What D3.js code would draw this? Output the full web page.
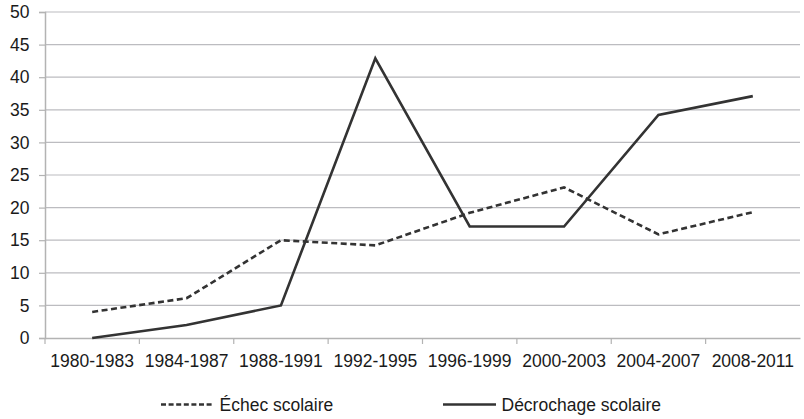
<!DOCTYPE html>
<html>
<head>
<meta charset="utf-8">
<script src="https://cdn.jsdelivr.net/npm/d3@7"></script>
<style>
  body { margin: 0; background: #fff; }
  text { font-family: "Liberation Sans", Arial, sans-serif; fill: #1a1a1a; }
</style>
</head>
<body>
<div id="chart"></div>
<script>
var width = 804, height = 419;

// data
var periods = ["1980-1983", "1984-1987", "1988-1991", "1992-1995",
               "1996-1999", "2000-2003", "2004-2007", "2008-2011"];
var echec = [4.0, 6.1, 15.0, 14.2, 19.2, 23.1, 15.9, 19.3];
var decrochage = [0, 2.0, 5.0, 42.9, 17.1, 17.1, 34.2, 37.1];
var yTicks = [0, 5, 10, 15, 20, 25, 30, 35, 40, 45, 50];
var seriesNames = ["Échec scolaire", "Décrochage scolaire"];

var margin = {left: 45, right: 4, top: 12, bottom: 81};

var svg = d3.select("#chart").append("svg")
    .attr("width", width)
    .attr("height", height);

var x = d3.scaleBand()
    .domain(periods)
    .range([margin.left, width - margin.right]);

var y = d3.scaleLinear()
    .domain([0, 50])
    .range([height - margin.bottom, margin.top]);

// gridlines
svg.append("g")
    .selectAll("line")
    .data(yTicks.slice(1))
    .enter().append("line")
    .attr("x1", margin.left)
    .attr("x2", width - margin.right)
    .attr("y1", function(d) { return y(d); })
    .attr("y2", function(d) { return y(d); })
    .attr("stroke", "#bcbcc0")
    .attr("stroke-width", 1.2);

// y axis
var yAxis = svg.append("g")
    .attr("transform", "translate(" + margin.left + ",0)")
    .call(d3.axisLeft(y).tickValues(yTicks).tickSize(6).tickPadding(9.5));
yAxis.select(".domain").attr("stroke", "#b3b3b3").attr("stroke-width", 1.5);
yAxis.selectAll(".tick line").attr("stroke", "#b3b3b3").attr("stroke-width", 1.2);
yAxis.selectAll("text").style("font-size", "17.5px").attr("fill", "#1a1a1a");

// x axis
var xAxis = svg.append("g")
    .attr("transform", "translate(0," + y(0) + ")")
    .call(d3.axisBottom(x).tickSize(0).tickPadding(17));
xAxis.select(".domain").attr("stroke", "#b3b3b3").attr("stroke-width", 1.5);
xAxis.selectAll("text").style("font-size", "17.5px").attr("fill", "#1a1a1a");

// category boundary ticks
svg.append("g")
    .selectAll("line")
    .data(periods)
    .enter().append("line")
    .attr("x1", function(d) { return x(d); })
    .attr("x2", function(d) { return x(d); })
    .attr("y1", y(0))
    .attr("y2", y(0) + 6)
    .attr("stroke", "#b3b3b3")
    .attr("stroke-width", 1.2);

var line = d3.line()
    .x(function(d, i) { return x(periods[i]) + x.bandwidth() / 2; })
    .y(function(d) { return y(d); });

svg.append("path")
    .datum(echec)
    .attr("d", line)
    .attr("fill", "none")
    .attr("stroke", "#333")
    .attr("stroke-width", 2.6)
    .attr("stroke-dasharray", "6,3.5");

svg.append("path")
    .datum(decrochage)
    .attr("d", line)
    .attr("fill", "none")
    .attr("stroke", "#333")
    .attr("stroke-width", 2.6);

// legend
var legend = [
  {name: seriesNames[0], x: 161, dash: "5,2.6"},
  {name: seriesNames[1], x: 443, dash: null}
];
var lg = svg.append("g").selectAll("g")
    .data(legend)
    .enter().append("g")
    .attr("transform", function(d) { return "translate(" + d.x + ",404.5)"; });
lg.append("line")
    .attr("x1", 0).attr("x2", 53)
    .attr("y1", 0).attr("y2", 0)
    .attr("stroke", "#333")
    .attr("stroke-width", 2.6)
    .attr("stroke-dasharray", function(d) { return d.dash; });
lg.append("text")
    .attr("x", 58.5)
    .attr("y", 6.5)
    .style("font-size", "17.5px")
    .text(function(d) { return d.name; });
</script>
</body>
</html>
